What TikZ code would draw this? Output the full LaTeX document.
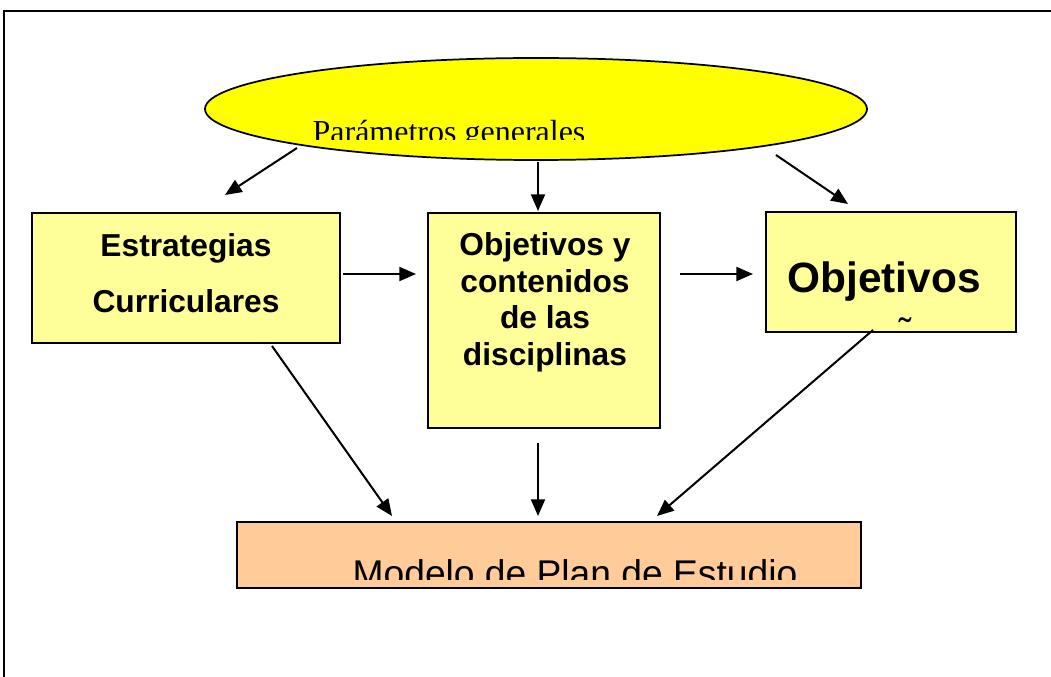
\documentclass[tikz,border=0pt]{standalone}
\usepackage{fontspec}
\setmainfont{Liberation Serif}
\setsansfont{Liberation Sans}
\usetikzlibrary{shapes.geometric,arrows.meta}
\definecolor{ellyellow}{HTML}{FFFF00}
\definecolor{boxyellow}{HTML}{FFFF99}
\definecolor{boxpeach}{HTML}{FFCC99}
\begin{document}
\begin{tikzpicture}[x=0.75pt,y=-0.75pt,
  box/.style={draw=black,line width=1.3pt,rectangle,inner sep=0pt},
  arr/.style={line width=1.5pt,-{Triangle[length=12.5pt,width=10.5pt]}},
  lbl/.style={inner sep=0pt,font=\sffamily\bfseries\fontsize{23.8}{27.6}\selectfont,align=center}]
\useasboundingbox (0,0) rectangle (1051,677);
\draw[line width=1.5pt] (4,677) -- (4,11.5) -- (1051,11.5);

% ellipse
\node[ellipse,draw=black,line width=1.3pt,fill=ellyellow,minimum width=496.5pt,minimum height=76.5pt,inner sep=0pt] (par) at (536,109) {};
\begin{scope}
\clip (200,100) rectangle (870,140);
\node[anchor=base,inner sep=0pt,font=\rmfamily\fontsize{24}{28}\selectfont] (partxt) at (449,143) {Parámetros generales};
\end{scope}

% boxes
\node[box,fill=boxyellow,minimum width=231pt,minimum height=97.5pt] (est) at (186,278) {};
\node[lbl,anchor=north,font=\sffamily\bfseries\fontsize{23.8}{42}\selectfont] (esttxt) at (186,233) {Estrategias\\Curriculares};

\node[box,fill=boxyellow,minimum width=174pt,minimum height=161.25pt] (obj) at (544,320.5) {};
\node[lbl,anchor=north] (objtxt) at (545,232) {Objetivos y\\contenidos\\de las\\disciplinas};

\node[box,fill=boxyellow,minimum width=187.5pt,minimum height=90pt] (oen) at (891,272) {};
\node[anchor=base,inner sep=0pt,font=\sffamily\bfseries\fontsize{31.8}{36}\selectfont] (oentxt) at (884,293) {Objetivos};
\node[anchor=base,inner sep=0pt,font=\sffamily\fontsize{28}{32}\selectfont] (tilde) at (905,345) {˜};

\node[box,fill=boxpeach,minimum width=468pt,minimum height=49.5pt] (mod) at (549,555) {};
\begin{scope}
\clip (237,522) rectangle (861,580);
\node[anchor=base,inner sep=0pt,font=\sffamily\fontsize{27.9}{32}\selectfont] (modtxt) at (575,586.5) {Modelo de Plan de Estudio};
\end{scope}

% arrow end points
\coordinate (e1s) at (297,148); \coordinate (e1t) at (225,195);
\coordinate (e2s) at (538,162); \coordinate (e2t) at (538,211);
\coordinate (e3s) at (776,155); \coordinate (e3t) at (848,204);
\coordinate (h1s) at (343,274); \coordinate (h1t) at (416,274);
\coordinate (h2s) at (680,274); \coordinate (h2t) at (753,274);
\coordinate (d1s) at (272,346); \coordinate (d1t) at (392,516);
\coordinate (d2s) at (538,443); \coordinate (d2t) at (538,516);
\coordinate (d3s) at (873,330); \coordinate (d3t) at (657,516);

\draw[arr] (e1s) -- (e1t);
\draw[arr] (e2s) -- (e2t);
\draw[arr] (e3s) -- (e3t);
\draw[arr] (h1s) -- (h1t);
\draw[arr] (h2s) -- (h2t);
\draw[arr] (d1s) -- (d1t);
\draw[arr] (d2s) -- (d2t);
\draw[arr] (d3s) -- (d3t);
\end{tikzpicture}
\end{document}
